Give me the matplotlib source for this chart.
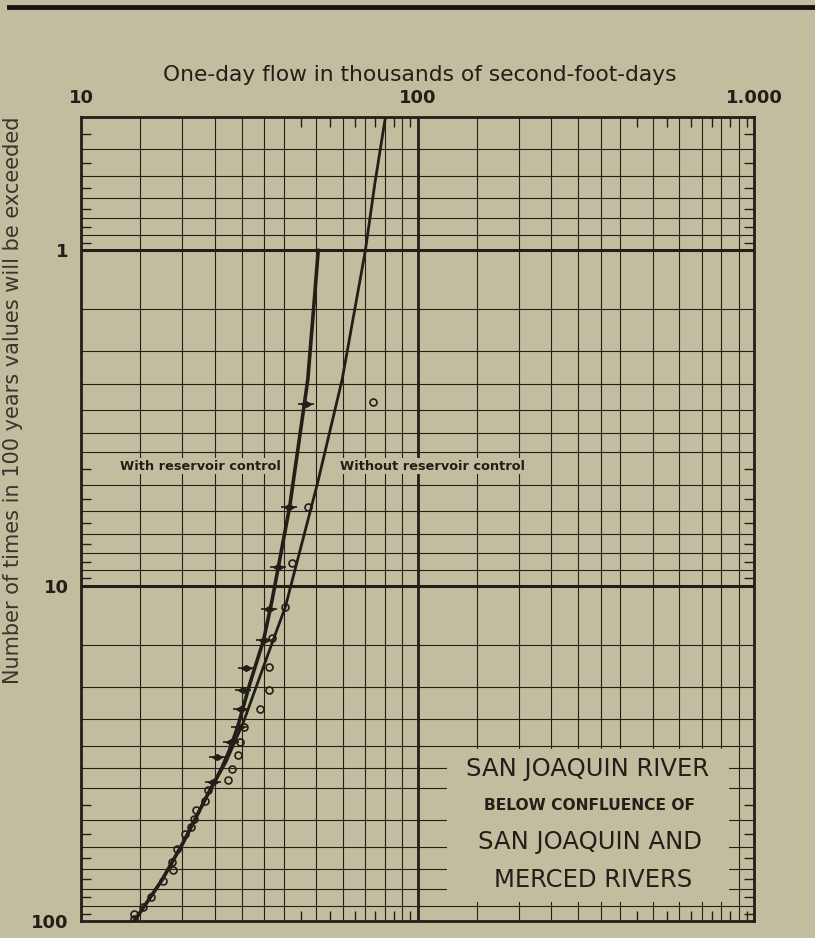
import matplotlib.pyplot as plt
from matplotlib.patches import Rectangle
from matplotlib.path import Path

bg = '#c2bd9e'
ink = '#221e18'

# plotted points
with_x = [46.7, 41.6, 38.6, 36.3, 34.9, 30.9, 30.4, 29.9, 29.4, 27.9, 25.3, 24.6]
with_y = [2.88, 5.81, 8.77, 11.7, 14.5, 17.6, 20.5, 23.3, 26.4, 29.2, 32.5, 38.4]

without_x = [73.9, 47.4, 42.5, 40.5, 36.9, 36.3, 36.2, 34.1, 30.6, 29.6, 29.2, 28.1, 27.4,
             23.8, 23.3, 22.0, 21.6, 21.2, 20.4, 19.3, 18.7, 18.8, 17.5, 16.1, 15.3, 14.4, 14.4]
without_y = [2.84, 5.81, 8.54, 11.6, 14.3, 17.5, 20.4, 23.3, 26.4, 29.2, 31.9, 35.3, 37.9,
             40.8, 43.8, 46.6, 49.7, 52.5, 55.0, 60.8, 66.7, 70.4, 76.2, 84.6, 91.0, 95.3, 98.5]

# drawn curves
without_curve_x = [14.4, 17.4, 20.1, 23.6, 27.0, 30.4, 34.6, 40.5, 50.5, 59.7, 70.0, 74.7, 80.3]
without_curve_y = [100, 75.5, 58.5, 42.6, 33.5, 25.5, 17.8, 11.55, 4.93, 2.43, 1.0, 0.631, 0.4]

with_curve_x = [14.4, 17.4, 20.1, 23.6, 26.2, 27.6, 29.2, 31.8, 34.9, 37.0, 39.3, 41.7, 44.4, 47.2, 49.1, 50.7]
with_curve_y = [100, 75.5, 58.5, 42.6, 35.0, 31.0, 26.4, 19.5, 14.5, 11.0, 7.97, 5.81, 3.74, 2.43, 1.50, 1.0]

# grid of the printed paper
x_grid = [15, 20, 25, 30, 35, 40, 50, 60, 70, 80, 90,
          150, 200, 250, 300, 350, 400, 500, 600, 700, 800, 900]
x_half = [45, 55, 65, 75, 85, 95, 450, 550, 650, 750, 850, 950]
y_grid = [0.5, 0.6, 0.7, 0.8, 0.9, 1.5, 2, 2.5, 3, 3.5, 4, 5, 6, 7, 8, 9,
          15, 20, 25, 30, 35, 40, 50, 60, 70, 80, 90]
y_half = [0.45, 0.55, 0.65, 0.75, 0.85, 0.95, 4.5, 5.5, 6.5, 7.5, 8.5, 9.5,
          45, 55, 65, 75, 85, 95]
x_labels = ['10', '100', '1.000']
y_labels = ['1', '10', '100']

fig = plt.figure(figsize=(8.15, 9.38), dpi=100, facecolor=bg)
ax = fig.add_axes([81 / 815, 1 - 921 / 938, 673 / 815, 804 / 938])
ax.set_facecolor(bg)
ax.set_xscale('log')
ax.set_yscale('log')
ax.set_xlim(10, 1000)
ax.set_ylim(100, 0.4)

for v in x_grid:
    ax.axvline(v, color=ink, lw=0.8, zorder=1)
for v in y_grid:
    ax.axhline(v, color=ink, lw=0.8, zorder=1)
ax.axvline(100, color=ink, lw=2.0, zorder=1)
ax.axhline(1, color=ink, lw=2.2, zorder=1)
ax.axhline(10, color=ink, lw=2.2, zorder=1)

# blank panel for the station name
ax.add_patch(Rectangle((122, 30.6), 718, 57.4, facecolor=bg, edgecolor='none', zorder=2))

ax.set_xticks([10, 100, 1000])
ax.set_xticklabels(x_labels)
ax.set_yticks([1, 10, 100])
ax.set_yticklabels(y_labels)
ax.set_xticks(x_half, minor=True)
ax.set_yticks(y_half, minor=True)
ax.xaxis.set_minor_formatter(plt.NullFormatter())
ax.yaxis.set_minor_formatter(plt.NullFormatter())
ax.xaxis.tick_top()
ax.tick_params(which='major', length=0, labelsize=13, labelcolor=ink)
ax.tick_params(axis='x', which='major', pad=7)
ax.tick_params(axis='y', which='major', pad=9)
ax.tick_params(which='minor', direction='in', length=7, width=1, color=ink,
               top=True, bottom=True, left=True, right=True)
for lab in ax.get_xticklabels() + ax.get_yticklabels():
    lab.set_fontweight('bold')
for s in ax.spines.values():
    s.set_color(ink)
    s.set_linewidth(2)
    s.set_zorder(5)

# curves and points
ax.plot(without_curve_x, without_curve_y, color=ink, lw=2.0, zorder=3)
ax.plot(with_curve_x, with_curve_y, color=ink, lw=2.6, zorder=3)
diamond = Path([(-1, 0), (0, 0.6), (1, 0), (0, -0.6), (-1, 0)])
ax.plot(with_x, with_y, ls='none', marker=diamond, ms=7, color=ink, zorder=4)
ax.plot(with_x, with_y, ls='none', marker='_', ms=11, mew=1.2, color=ink, zorder=4)
ax.plot(without_x, without_y, ls='none', marker='o', ms=5, mfc='none', mec=ink, mew=1.2, zorder=4)

box = dict(facecolor=bg, edgecolor='none', pad=1)
ax.text(13.1, 4.4, 'With reservoir control', fontsize=9.3, fontweight='bold', color=ink,
        va='center', ha='left', bbox=box, zorder=3)
ax.text(59.0, 4.4, 'Without reservoir control', fontsize=9.3, fontweight='bold', color=ink,
        va='center', ha='left', bbox=box, zorder=3)

def px(x, y):
    return x / 815, 1 - y / 938

fig.text(*px(588, 769), 'SAN JOAQUIN RIVER', fontsize=17.5, color=ink, ha='center', va='center')
fig.text(*px(589, 805), 'BELOW CONFLUENCE OF', fontsize=11.2, fontweight='bold', color=ink, ha='center', va='center')
fig.text(*px(590, 842), 'SAN JOAQUIN AND', fontsize=17.5, color=ink, ha='center', va='center')
fig.text(*px(593, 880), 'MERCED RIVERS', fontsize=17.5, color=ink, ha='center', va='center')

fig.text(*px(420, 75), 'One-day flow in thousands of second-foot-days', fontsize=15.7,
         color=ink, ha='center', va='center')
fig.text(*px(13, 400), 'Number of times in 100 years values will be exceeded', fontsize=15,
         color='#3a352c', rotation=90, ha='center', va='center')

# rule across the top of the page
fig.add_artist(plt.Line2D([9 / 815, 1], [1 - 7 / 938, 1 - 7 / 938], color='#1a1410', lw=3.5))

fig.savefig('out.png', dpi=100, facecolor=bg)
